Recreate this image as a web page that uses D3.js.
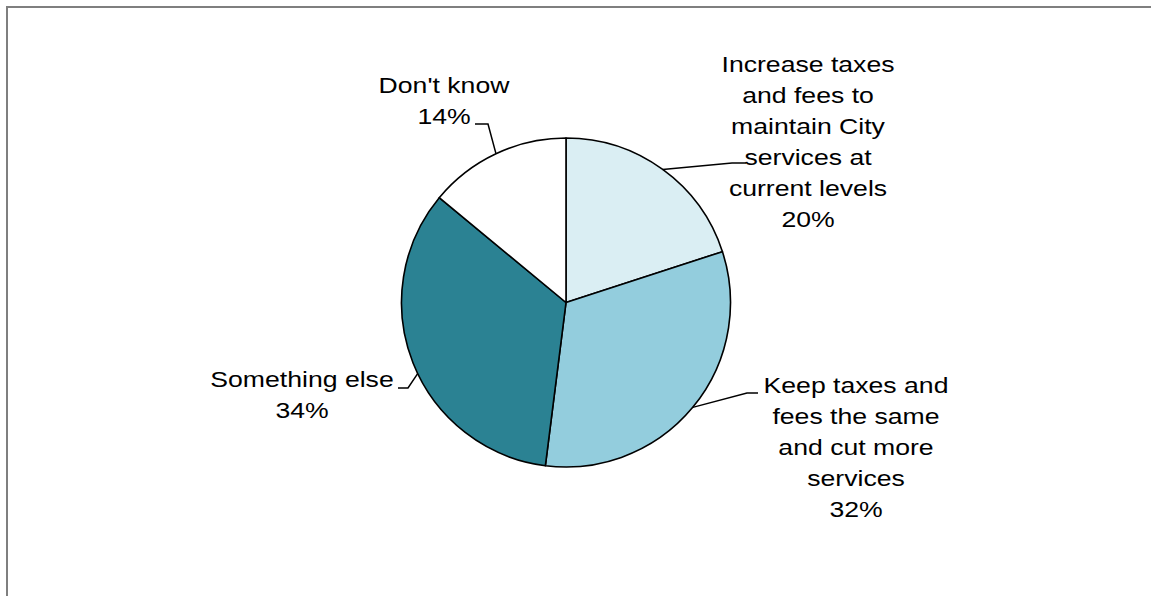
<!DOCTYPE html>
<html>
<head>
<meta charset="utf-8">
<script src="https://cdn.jsdelivr.net/npm/d3@7"></script>
<style>
  html, body { margin: 0; padding: 0; background: #fff; }
  svg { display: block; }
  text { font-family: "Liberation Sans", Arial, sans-serif; font-size: 22px; fill: #000; }
</style>
</head>
<body>
<svg id="chart" width="1151" height="596"></svg>
<script>
// Survey responses, clockwise from 12 o'clock
const categories = [
  "Increase taxes and fees to maintain City services at current levels",
  "Keep taxes and fees the same and cut more services",
  "Something else",
  "Don't know"
];
const values = [20, 32, 34, 14];
const colors = ["#DAEEF3", "#93CDDD", "#2B8293", "#FFFFFF"];

// Label text lines (wrapped) for each slice
const labelLines = [
  ["Increase taxes", "and fees to", "maintain City", "services at", "current levels"],
  ["Keep taxes and", "fees the same", "and cut more", "services"],
  ["Something else"],
  ["Don't know"]
];

// Label placement: text centre x, first baseline y, and leader elbow / end points
const labelPos = [
  { x: 808, y: 72, elbow: [732, 163], end: [746, 163] },
  { x: 856, y: 393, elbow: [747, 393], end: [758, 393] },
  { x: 302, y: 387, elbow: [408, 388], end: [398, 388] },
  { x: 444, y: 93, elbow: [488, 124], end: [475, 124] }
];

const svg = d3.select("#chart");
const W = 1151, H = 596;

// Outer frame (only top and left edges fall inside the view)
svg.append("rect")
  .attr("x", 7).attr("y", 7)
  .attr("width", W + 50).attr("height", H + 50)
  .attr("fill", "none")
  .attr("stroke", "#7f7f7f")
  .attr("stroke-width", 2);

const cx = 566, cy = 302.5, r = 164.5;
const g = svg.append("g").attr("transform", `translate(${cx},${cy})`);

const pie = d3.pie().sort(null).value(d => d.value).startAngle(0).endAngle(2 * Math.PI);
const data = categories.map((c, i) => ({ name: c, value: values[i], color: colors[i], lines: labelLines[i], pos: labelPos[i] }));
const arcs = pie(data);
const arc = d3.arc().innerRadius(0).outerRadius(r);

g.selectAll("path.slice")
  .data(arcs)
  .join("path")
  .attr("class", "slice")
  .attr("d", arc)
  .attr("fill", d => d.data.color)
  .attr("stroke", "#000")
  .attr("stroke-width", 1.6)
  .attr("stroke-linejoin", "round");

// Leader lines from the slice edge to each label
const edgePoint = a => [cx + r * Math.sin(a), cy - r * Math.cos(a)];
const anchorAngle = d => {
  const mid = (d.startAngle + d.endAngle) / 2;
  // the "Something else" leader meets the rim slightly below its mid-angle
  return d.index === 2 ? mid - 0.07 : mid;
};
svg.selectAll("polyline.leader")
  .data(arcs)
  .join("polyline")
  .attr("class", "leader")
  .attr("points", d => [edgePoint(anchorAngle(d)), d.data.pos.elbow, d.data.pos.end].map(p => p.join(",")).join(" "))
  .attr("fill", "none")
  .attr("stroke", "#000")
  .attr("stroke-width", 1.5);

// Labels: category text lines followed by percentage (slightly wide lettering)
const lineH = 31;
const stretch = 1.21;
svg.selectAll("text.label")
  .data(arcs)
  .join("text")
  .attr("class", "label")
  .attr("text-anchor", "middle")
  .attr("transform", d => `translate(${d.data.pos.x},0) scale(${stretch},1)`)
  .each(function(d) {
    const t = d3.select(this);
    const lines = d.data.lines.concat([d.data.value + "%"]);
    lines.forEach((s, i) => {
      t.append("tspan")
        .attr("x", 0)
        .attr("y", d.data.pos.y + i * lineH)
        .text(s);
    });
  });
</script>
</body>
</html>
